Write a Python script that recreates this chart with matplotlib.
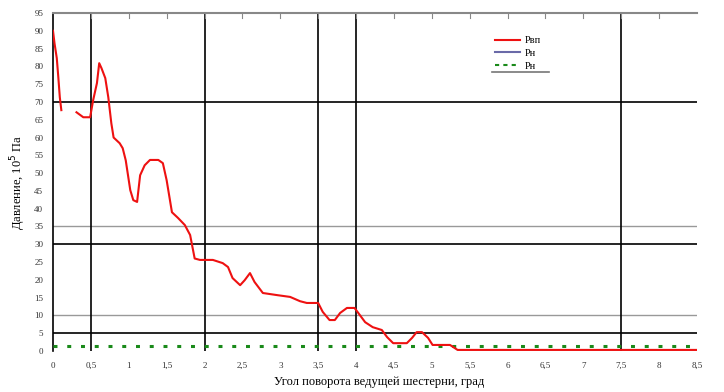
import numpy as np
import matplotlib
matplotlib.use('Agg')
import matplotlib.pyplot as plt
from matplotlib.lines import Line2D


nan = np.nan

# угол поворота ведущей шестерни, град
angle = [0.00, 0.02, 0.05, 0.07, 0.09, 0.11, nan, 0.31, 0.40, 0.49,
         0.53, 0.58, 0.61, 0.64, 0.69, 0.73, 0.77, 0.80, 0.88, 0.92,
         0.96, 1.02, 1.06, 1.11, 1.15, 1.21, 1.28, 1.39, 1.45, 1.50,
         1.57, 1.65, 1.74, 1.81, 1.87, 1.94, 2.11, 2.24, 2.31, 2.37,
         2.47, 2.53, 2.60, 2.66, 2.77, 2.96, 3.13, 3.26, 3.35, 3.50,
         3.56, 3.65, 3.72, 3.79, 3.88, 3.98, 4.05, 4.12, 4.22, 4.34,
         4.41, 4.49, 4.67, 4.74, 4.80, 4.87, 4.95, 5.01, 5.24, 5.34,
         8.50]

# давление Рвп, 10^5 Па
p_vp = [90.0, 86.5, 82.3, 77.0, 71.3, 67.7, nan, 67.1, 65.7, 65.7,
        70.5, 75.3, 80.9, 79.5, 76.7, 71.3, 64.0, 60.0, 58.4, 57.0,
        53.6, 45.2, 42.4, 41.9, 49.4, 52.2, 53.7, 53.7, 52.8, 48.0,
        39.0, 37.4, 35.4, 32.6, 26.0, 25.6, 25.6, 24.7, 23.6, 20.5,
        18.5, 19.9, 21.9, 19.4, 16.3, 15.7, 15.2, 14.0, 13.5, 13.5,
        11.0, 8.7, 8.7, 10.7, 12.1, 12.1, 10.1, 8.1, 6.7, 5.9,
        3.9, 2.2, 2.2, 3.7, 5.3, 5.3, 3.7, 1.7, 1.7, 0.3,
        0.3]

pn_angle = [0.0, 8.5]
p_n = [1.4, 1.4]

x_ticks = np.arange(0, 8.51, 0.5)
x_labels = ['0', '0,5', '1', '1,5', '2', '2,5', '3', '3,5', '4', '4,5',
            '5', '5,5', '6', '6,5', '7', '7,5', '8', '8,5']
y_ticks = np.arange(0, 96, 5)

dark_h = [70, 30, 5]
gray_h = [35, 10]
dark_v = [0.5, 2, 3.5, 4, 7.5]


def main():
    plt.rcParams['font.family'] = ['Liberation Serif', 'DejaVu Serif']

    fig = plt.figure(figsize=(7.24, 3.92), dpi=100)
    ax = fig.add_axes([0.0732, 0.1046, 0.8895, 0.8622])

    for y in gray_h:
        ax.axhline(y, color='#999999', lw=1.0, zorder=1)
    for y in dark_h:
        ax.axhline(y, color='black', lw=1.2, zorder=1)
    for x in dark_v:
        ax.axvline(x, color='black', lw=1.2, zorder=1)

    ax.plot(pn_angle, p_n, color='#1a8a1a', lw=2.2, dashes=(1.3, 3.2), zorder=3)
    ax.plot(angle, p_vp, color='#ee1111', lw=1.5, zorder=4)

    ax.set_xlim(0, 8.5)
    ax.set_ylim(0, 95)
    ax.set_xticks(x_ticks)
    ax.set_xticklabels(x_labels)
    ax.set_yticks(y_ticks)
    ax.tick_params(axis='both', length=0, labelsize=6.5, colors='#333333')
    ax.tick_params(axis='x', pad=8)
    ax.tick_params(axis='y', pad=7)

    # короткие засечки сверху
    for x in x_ticks[1:-1]:
        ax.plot([x, x], [95, 93.5], color='#888888', lw=0.8, zorder=2)

    ax.spines['right'].set_visible(False)
    ax.spines['bottom'].set_visible(False)
    ax.spines['top'].set_color('#888888')
    ax.spines['top'].set_linewidth(1.5)
    ax.spines['left'].set_color('black')
    ax.spines['left'].set_linewidth(1.2)

    ax.set_ylabel('Давление, 10$^5$ Па', fontsize=9)
    ax.yaxis.set_label_coords(-0.039, 0.5)
    ax.set_xlabel('Угол поворота ведущей шестерни, град', fontsize=9)
    ax.xaxis.set_label_coords(0.507, -0.075)

    handles = [
        Line2D([], [], color='#ee1111', lw=1.5),
        Line2D([], [], color='#6a6aa8', lw=1.5),
        Line2D([], [], color='#1a8a1a', lw=1.5, dashes=(2, 2)),
    ]
    ax.legend(handles, ['Рвп', 'Рн', 'Рн'], loc='upper left',
              bbox_to_anchor=(0.672, 0.96), frameon=False, fontsize=7.5,
              handlelength=2.4, handletextpad=0.4, labelspacing=0.35)
    fig.add_artist(Line2D([492 / 724, 549 / 724], [1 - 72 / 392, 1 - 72 / 392],
                          color='#777777', lw=1.2))

    fig.savefig('out.png', dpi=100)


if __name__ == '__main__':
    main()
